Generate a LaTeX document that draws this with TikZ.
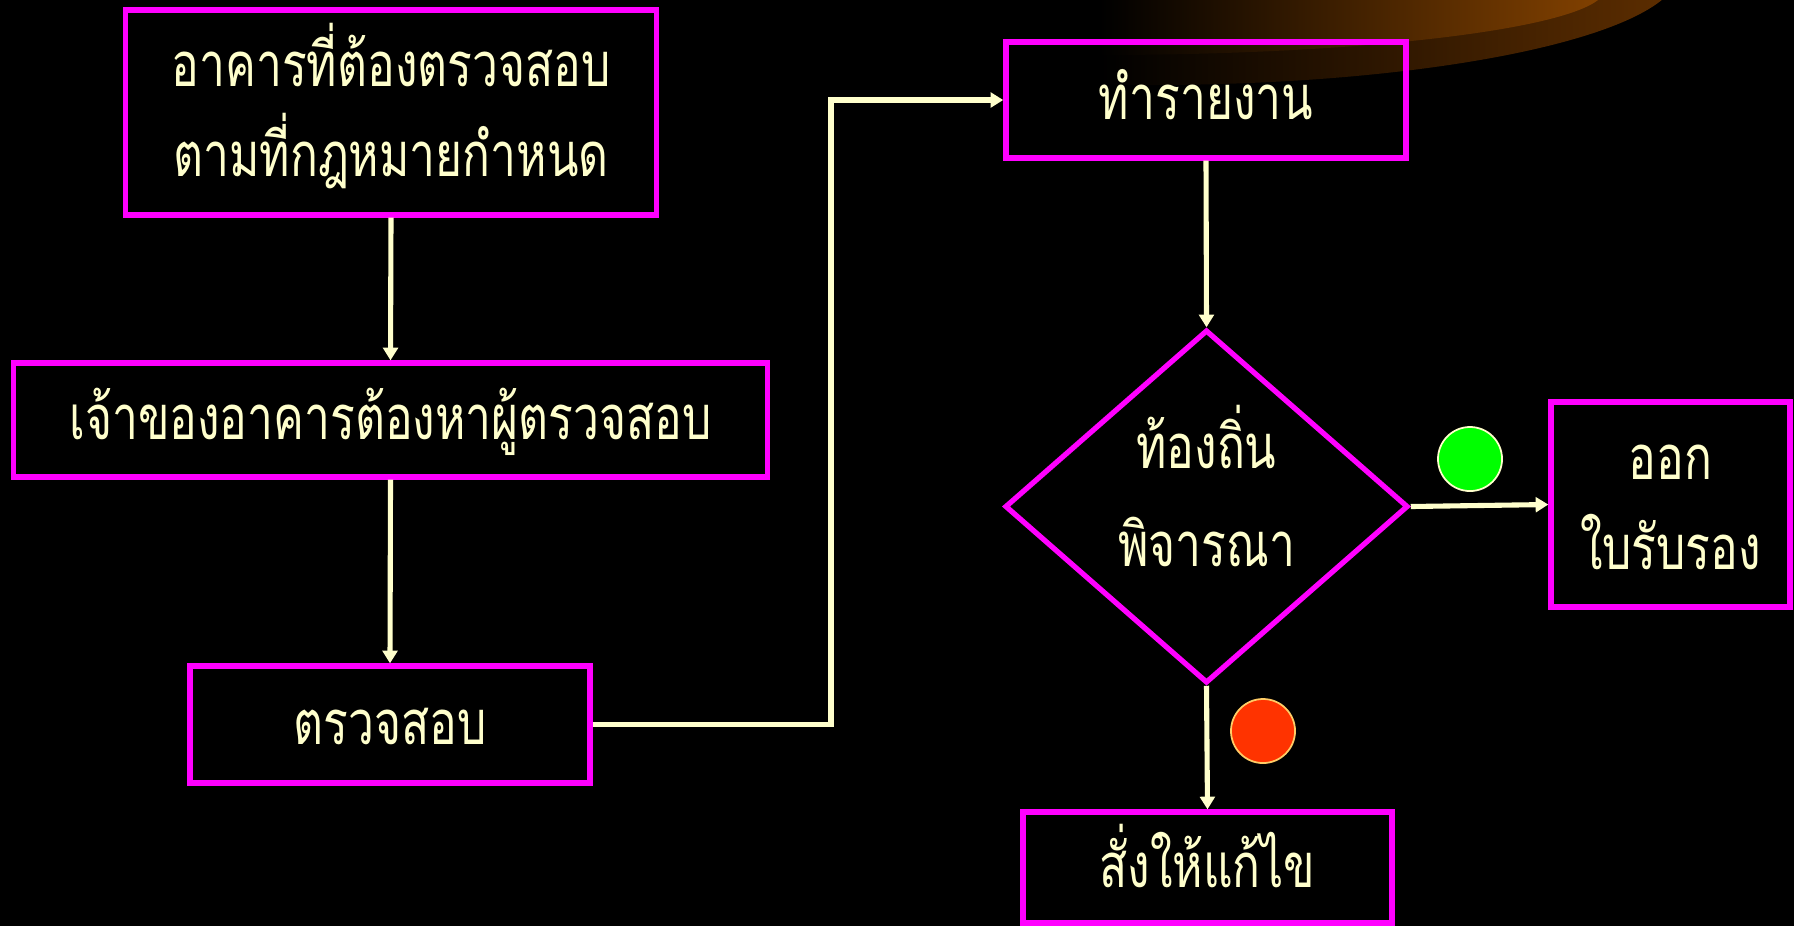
\documentclass[tikz,border=0pt]{standalone}
\usepackage{fontspec}
\newfontfamily\thaifont[Script=Thai,FakeStretch=0.75]{Loma}
\usetikzlibrary{arrows.meta,shapes.geometric}
\definecolor{mag}{HTML}{FF00FF}
\definecolor{cream}{HTML}{FFFFCC}
\definecolor{brownA}{HTML}{5E2E00}
\definecolor{brownB}{HTML}{844200}
\definecolor{okgreen}{HTML}{00FF00}
\definecolor{stopred}{HTML}{FF3300}
\definecolor{redrim}{HTML}{FFCC66}
\tikzset{
  box/.style={draw=mag, line width=1.5pt, rectangle, inner sep=0pt},
  decide/.style={draw=mag, line width=1.5pt, diamond, inner sep=0pt},
  txt/.style={text=cream, inner sep=0pt, anchor=base, font=\thaifont\fontsize{17.5}{21}\selectfont},
  conn/.style={draw=cream, line width=1.45pt, -{Triangle[length=3.6pt,width=4.2pt]}},
  dot/.style={circle, inner sep=0pt, minimum size=0.64cm, line width=0.5pt}
}
\begin{document}
\begin{tikzpicture}[x=0.01cm,y=-0.01cm]
\fill[black] (0,0) rectangle (1794,926);
\useasboundingbox (0,0) rectangle (1794,926);
% decorative disc
\begin{scope}
\clip (0,0) rectangle (1794,926);
\begin{scope}
\clip (1150,-30) ellipse [x radius=530, y radius=115];
\shade[left color=black, right color=brownA] (1100,-220) rectangle (1680,100);
\end{scope}
\begin{scope}
\clip (1100,-11) ellipse [x radius=505, y radius=66];
\shade[left color=black, right color=brownB] (1100,-220) rectangle (1610,100);
\end{scope}
\end{scope}

% shapes
\node[box, minimum width=5.30cm, minimum height=2.05cm] (b1) at (391,112.5) {};
\node[box, minimum width=7.53cm, minimum height=1.14cm] (b2) at (390.5,420) {};
\node[box, minimum width=4.00cm, minimum height=1.17cm] (b3) at (390,724.5) {};
\node[box, minimum width=4.00cm, minimum height=1.16cm] (b4) at (1206,100) {};
\node[decide, minimum width=4.03cm, minimum height=3.53cm] (d) at (1206.5,506.5) {};
\node[box, minimum width=2.39cm, minimum height=2.05cm] (b5) at (1670.5,504.5) {};
\node[box, minimum width=3.69cm, minimum height=1.11cm] (b6) at (1207.5,867.5) {};

% texts
\node[txt] (t1a) at (391,86) {อาคารที่ต้องตรวจสอบ};
\node[txt] (t1b) at (391,176) {ตามที่กฎหมายกำหนด};
\node[txt] (t2) at (390.5,439) {เจ้าของอาคารต้องหาผู้ตรวจสอบ};
\node[txt] (t3) at (390,744) {ตรวจสอบ};
\node[txt] (t4) at (1206,119) {ทำรายงาน};
\node[txt] (tda) at (1206.5,468) {ท้องถิ่น};
\node[txt] (tdb) at (1206.5,566) {พิจารณา};
\node[txt] (t5a) at (1670.5,479) {ออก};
\node[txt] (t5b) at (1670.5,569) {ใบรับรอง};
\node[txt] (t6) at (1207.5,887) {สั่งให้แก้ไข};

% markers
\node[dot, fill=okgreen, draw=cream] (g) at (1470,459) {};
\node[dot, fill=stopred, draw=redrim] (r) at (1263,731) {};

% connectors
\coordinate (bend) at (831,724.5);
\draw[conn] (b1.south) -- (b2.north);
\draw[conn] (b2.south) -- (b3.north);
\draw[conn] (b3.east) -- (bend) |- (b4.west);
\draw[conn] (b4.south) -- (d.north);
\draw[conn] (d.east) -- (b5.west);
\draw[conn] (d.south) -- (b6.north);
\end{tikzpicture}
\end{document}
